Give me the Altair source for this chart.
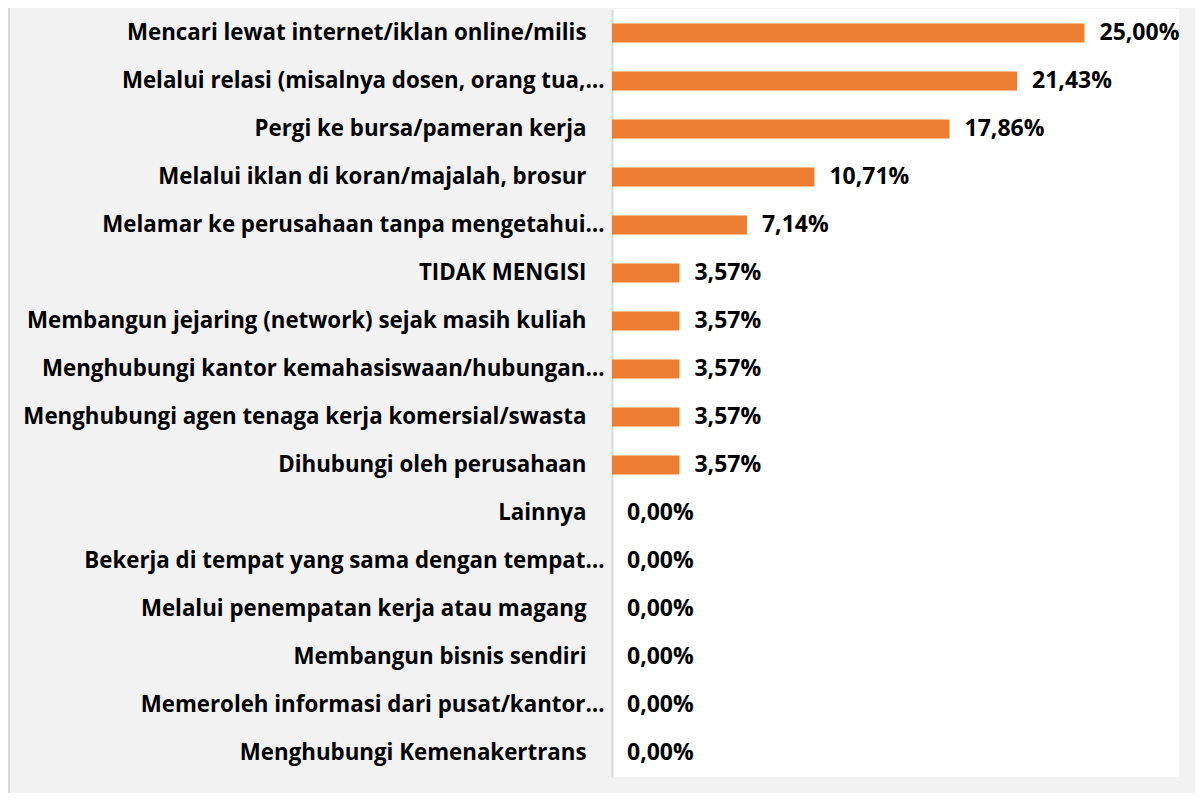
import altair as alt
import pandas as pd

categories = [
    "Mencari lewat internet/iklan online/milis",
    "Melalui relasi (misalnya dosen, orang tua,…",
    "Pergi ke bursa/pameran kerja",
    "Melalui iklan di koran/majalah, brosur",
    "Melamar ke perusahaan tanpa mengetahui…",
    "TIDAK MENGISI",
    "Membangun jejaring (network) sejak masih kuliah",
    "Menghubungi kantor kemahasiswaan/hubungan…",
    "Menghubungi agen tenaga kerja komersial/swasta",
    "Dihubungi oleh perusahaan",
    "Lainnya",
    "Bekerja di tempat yang sama dengan tempat…",
    "Melalui penempatan kerja atau magang",
    "Membangun bisnis sendiri",
    "Memeroleh informasi dari pusat/kantor…",
    "Menghubungi Kemenakertrans",
]
values = [25.00, 21.43, 17.86, 10.71, 7.14, 3.57, 3.57, 3.57, 3.57, 3.57,
          0.00, 0.00, 0.00, 0.00, 0.00, 0.00]

df = pd.DataFrame({"cat": categories, "val": values})
df["label"] = [f"{v:.2f}".replace(".", ",") + "%" for v in values]

FONT = "Open Sans"
ORANGE = "#ED7D31"

y_enc = alt.Y(
    "cat:N",
    sort=categories,
    title=None,
    scale=alt.Scale(paddingInner=0.6, paddingOuter=0.3),
    axis=alt.Axis(
        labelFont=FONT,
        labelFontSize=22.3,
        labelFontWeight="bold",
        labelColor="#000000",
        labelLimit=1000,
        labelPadding={"condition": {"test": "indexof(datum.value, '…') >= 0", "value": 8}, "value": 26},
        ticks=False,
        grid=False,
        domainColor="#D9D9D9",
        domainWidth=2,
    ),
)
x_enc = alt.X("val:Q", scale=alt.Scale(domain=[0, 30]), axis=None)

base = alt.Chart(df)
bars = base.mark_bar(color=ORANGE).encode(x=x_enc, y=y_enc)
texts = base.mark_text(
    align="left", baseline="middle", dx=15, font=FONT, fontSize=23,
    fontWeight="bold", color="#000000"
).encode(x=x_enc, y=alt.Y("cat:N", sort=categories), text="label:N")

border = alt.Chart(pd.DataFrame({"b": [0]})).mark_rule(
    color="#D9D9D9", strokeWidth=2
).encode(x=alt.value(-603), y=alt.value(-1), y2=alt.value(785))

chart = (
    alt.layer(bars, texts, border)
    .properties(
        width=567,
        height=768,
        background="#F2F2F2",
        padding={"left": 604, "top": 1, "right": 16, "bottom": 16},
        autosize=alt.AutoSizeParams(type="none"),
    )
    .configure_view(fill="#FFFFFF", stroke=None)
)

chart.save("out.html", embed_options={"renderer": "svg", "actions": False})
